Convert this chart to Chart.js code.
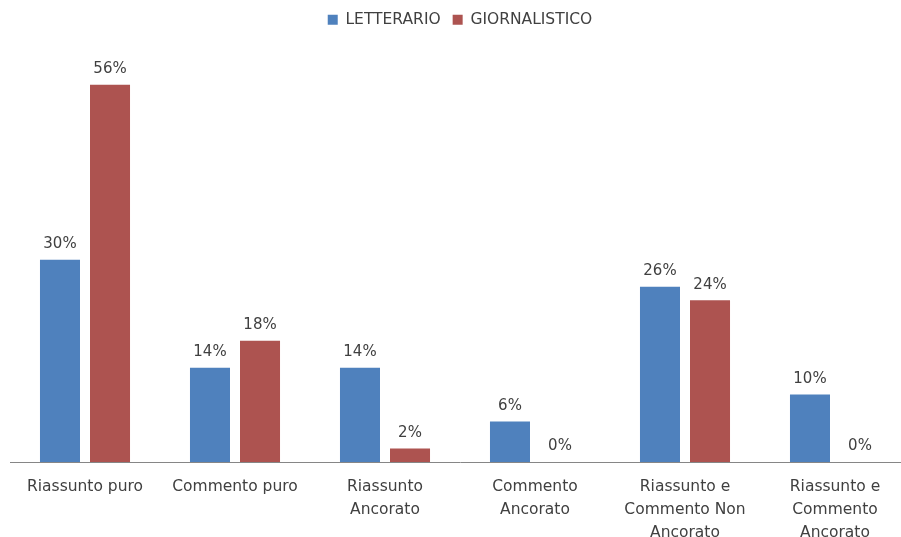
<!DOCTYPE html>
<html>
<head>
<meta charset="utf-8">
<script src="https://cdn.jsdelivr.net/npm/chart.js@4"></script>
<style>
  html, body { margin: 0; padding: 0; background: #fff; overflow: hidden; }
  #wrap { width: 911px; height: 537px; }
</style>
</head>
<body>
<div id="wrap"><canvas id="chart"></canvas></div>
<script>
const categories = [
  ['Riassunto puro'],
  ['Commento puro'],
  ['Riassunto', 'Ancorato'],
  ['Commento', 'Ancorato'],
  ['Riassunto e', 'Commento Non', 'Ancorato'],
  ['Riassunto e', 'Commento', 'Ancorato'],
];
const letterario = [30, 14, 14, 6, 26, 10];
const giornalistico = [56, 18, 2, 0, 24, 0];

const textColor = '#404040';
const fontFamily = '"DejaVu Sans", sans-serif';

// draws "NN%" above each bar
const valueLabels = {
  id: 'valueLabels',
  afterDatasetsDraw(chart) {
    const ctx = chart.ctx;
    ctx.save();
    ctx.font = `15px ${fontFamily}`;
    ctx.fillStyle = textColor;
    ctx.textAlign = 'center';
    ctx.textBaseline = 'bottom';
    chart.data.datasets.forEach((ds, i) => {
      chart.getDatasetMeta(i).data.forEach((bar, j) => {
        ctx.fillText(ds.data[j] + '%', bar.x, bar.y - 8);
      });
    });
    ctx.restore();
  },
};

new Chart(document.getElementById('chart').getContext('2d'), {
  type: 'bar',
  data: {
    labels: categories,
    datasets: [
      {
        label: 'LETTERARIO',
        data: letterario,
        backgroundColor: '#4F81BD',
        borderWidth: 0,
      },
      {
        label: 'GIORNALISTICO',
        data: giornalistico,
        backgroundColor: '#AD5350',
        borderWidth: 0,
      },
    ],
  },
  options: {
    responsive: true,
    maintainAspectRatio: false,
    animation: false,
    datasets: {
      bar: { categoryPercentage: 0.667, barPercentage: 0.8 },
    },
    layout: { padding: { left: 10, right: 1, top: 0, bottom: 0 } },
    scales: {
      x: {
        grid: { display: false, drawTicks: false },
        border: { display: true, color: '#868686', width: 1 },
        ticks: {
          color: textColor,
          font: { family: fontFamily, size: 15.5, lineHeight: '23px' },
          padding: 13,
          maxRotation: 0,
          autoSkip: false,
        },
        afterFit(scale) { scale.height = 75; },
      },
      y: {
        display: false,
        min: 0,
        max: 63,
      },
    },
    plugins: {
      legend: {
        position: 'top',
        labels: {
          color: textColor,
          font: { family: fontFamily, size: 15.5 },
          boxWidth: 10,
          boxHeight: 10,
          padding: 12,
        },
      },
      tooltip: { enabled: false },
    },
  },
  plugins: [valueLabels],
});
</script>
</body>
</html>
